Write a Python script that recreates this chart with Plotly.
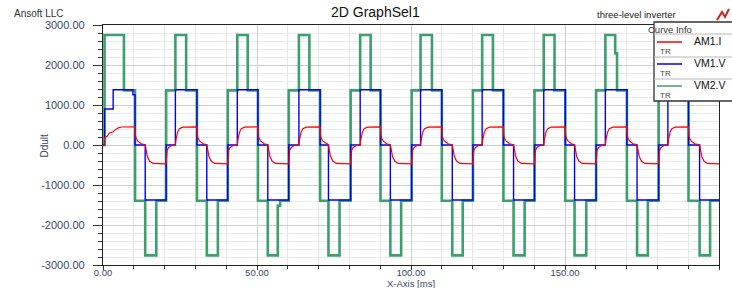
import plotly.graph_objects as go

# ---------------- data ----------------
# VM2.V (green) step waveform: transition times [ms] and levels from that time on
green_t = [0, 0.5, 6.8, 10.4, 13.7, 17.3,
           20.5, 23.5, 27.0, 30.5, 33.7, 37.3,
           40.5, 43.6, 47.0, 50.3, 53.5, 56.75, 57.5,
           60.3, 63.6, 67.0, 70.5, 73.2, 76.8,
           80.4, 83.5, 86.9, 90.1, 93.3, 96.8,
           100.2, 103.1, 106.8, 110.0, 113.4, 116.8,
           120.1, 123.1, 126.6, 130.0, 133.3, 136.9,
           140.1, 143.1, 146.6, 150.1, 153.1, 156.9,
           160.1, 163.1, 166.3, 166.9, 170.1, 173.4, 176.9,
           180.4, 183.4, 187.0, 190.1, 193.7, 197.1,
           200.0]
green_v = [0, 2750, 1365, -1395, -2760, -1395,
           1365, 2750, 1365, -1395, -2760, -1395,
           1365, 2750, 1365, -1395, -2760, -1520, -1395,
           1365, 2750, 1365, -1395, -2760, -1395,
           1365, 2750, 1365, -1395, -2760, -1395,
           1365, 2750, 1365, -1395, -2760, -1395,
           1365, 2750, 1365, -1395, -2760, -1395,
           1365, 2750, 1365, -1395, -2760, -1395,
           1365, 2750, 2290, 1365, -1395, -2760, -1395,
           1365, 2750, 1365, -1395, -2760, -1395,
           -1395]

# VM1.V (blue) step waveform
blue_t = [0, 0.5, 3.3, 9.7, 10.4, 13.7,
          20.5, 23.5, 30.5, 33.7,
          40.5, 43.6, 50.3, 53.5,
          60.3, 63.6, 70.5, 73.2,
          80.4, 83.5, 90.1, 93.3,
          100.2, 103.1, 110.0, 113.4,
          120.1, 123.1, 130.0, 133.3,
          140.1, 143.1, 150.1, 153.1,
          160.1, 163.1, 170.1, 173.4,
          180.4, 183.4, 190.1, 193.7,
          200.0]
blue_v = [0, 900, 1380, 1256, 0, -1375,
          0, 1380, 0, -1375,
          0, 1380, 0, -1375,
          0, 1380, 0, -1375,
          0, 1380, 0, -1375,
          0, 1380, 0, -1375,
          0, 1380, 0, -1375,
          0, 1380, 0, -1375,
          0, 1380, 0, -1375,
          0, 1380, 0, -1375,
          -1375]

# AM1.I (red) sampled points
red_t = [0, 0.45, 0.5, 1.0, 1.5, 2.0, 2.8, 3.3, 3.6, 4.2, 5.0, 6.0, 10.4, 10.5, 10.7, 11.3, 12.4, 13.7, 13.95, 14.4, 15.1, 16.2,
         20.5, 20.6, 20.8, 21.3, 22.3, 23.5, 23.7, 24.25, 24.8, 25.9, 30.5, 30.6, 30.8, 31.4, 32.5, 33.7, 33.95, 34.4, 35.1, 36.2,
         40.5, 40.6, 40.8, 41.3, 42.3, 43.6, 43.8, 44.35, 44.9, 46.0, 50.3, 50.4, 50.6, 51.2, 52.3, 53.5, 53.75, 54.2, 54.9, 56.0,
         60.3, 60.4, 60.6, 61.1, 62.1, 63.6, 63.8, 64.35, 64.9, 66.0, 70.5, 70.6, 70.8, 71.4, 72.5, 73.2, 73.45, 73.9, 74.6, 75.7,
         80.4, 80.5, 80.7, 81.2, 82.2, 83.5, 83.7, 84.25, 84.8, 85.9, 90.1, 90.2, 90.4, 91.0, 92.1, 93.3, 93.55, 94.0, 94.7, 95.8,
         100.2, 100.3, 100.5, 101.0, 102.0, 103.1, 103.3, 103.85, 104.4, 105.5, 110.0, 110.1, 110.3, 110.9, 112.0, 113.4, 113.65, 114.1, 114.8, 115.9,
         120.1, 120.2, 120.4, 120.9, 121.9, 123.1, 123.3, 123.85, 124.4, 125.5, 130.0, 130.1, 130.3, 130.9, 132.0, 133.3, 133.55, 134.0, 134.7, 135.8,
         140.1, 140.2, 140.4, 140.9, 141.9, 143.1, 143.3, 143.85, 144.4, 145.5, 150.1, 150.2, 150.4, 151.0, 152.1, 153.1, 153.35, 153.8, 154.5, 155.6,
         160.1, 160.2, 160.4, 160.9, 161.9, 163.1, 163.3, 163.85, 164.4, 165.5, 170.1, 170.2, 170.4, 171.0, 172.1, 173.4, 173.65, 174.1, 174.8, 175.9,
         180.4, 180.5, 180.7, 181.2, 182.2, 183.4, 183.6, 184.15, 184.7, 185.8, 190.1, 190.2, 190.4, 191.0, 192.1, 193.7, 193.95, 194.4, 195.1, 196.2,
         200.0]
red_v = [0, 0, 180, 195, 230, 295, 320, 330, 360, 400, 430, 450, 452, 260, 180, 95, 30, 8, -130, -290, -400, -460,
         -470, -230, -140, -60, -12, -2, 137, 328, 410, 448, 452, 260, 180, 95, 30, 8, -130, -290, -400, -460,
         -470, -230, -140, -60, -12, -2, 137, 328, 410, 448, 452, 260, 180, 95, 30, 8, -130, -290, -400, -460,
         -470, -230, -140, -60, -12, -2, 137, 328, 410, 448, 452, 260, 180, 95, 30, 8, -130, -290, -400, -460,
         -470, -230, -140, -60, -12, -2, 137, 328, 410, 448, 452, 260, 180, 95, 30, 8, -130, -290, -400, -460,
         -470, -230, -140, -60, -12, -2, 137, 328, 410, 448, 452, 260, 180, 95, 30, 8, -130, -290, -400, -460,
         -470, -230, -140, -60, -12, -2, 137, 328, 410, 448, 452, 260, 180, 95, 30, 8, -130, -290, -400, -460,
         -470, -230, -140, -60, -12, -2, 137, 328, 410, 448, 452, 260, 180, 95, 30, 8, -130, -290, -400, -460,
         -470, -230, -140, -60, -12, -2, 137, 328, 410, 448, 452, 260, 180, 95, 30, 8, -130, -290, -400, -460,
         -470, -230, -140, -60, -12, -2, 137, 328, 410, 448, 452, 260, 180, 95, 30, 8, -130, -290, -400, -460,
         -470]

series_names = ["AM1.I", "VM1.V", "VM2.V"]
series_colors = ["#ff0000", "#0000ff", "#3c9f6e"]

x_tickvals = [0, 50, 100, 150, 200]
x_ticktext = ["0.00", "50.00", "100.00", "150.00", "200.00"]
y_tickvals = [-3000, -2000, -1000, 0, 1000, 2000, 3000]
y_ticktext = ["-3000.00", "-2000.00", "-1000.00", "0.00", "1000.00", "2000.00", "3000.00"]

# ---------------- layout helpers ----------------
W, H = 732, 288
ML, MR, MT, MB = 103, 13, 25, 23
PW, PH = W - ML - MR, H - MT - MB


def xp(px):
    return (px - ML) / PW


def yp(py):
    return (H - MB - py) / PH


FONT = "Liberation Sans, Arial, sans-serif"
TICKCOL = "#3b4766"

fig = go.Figure()
fig.add_trace(go.Scatter(x=green_t, y=green_v, mode="lines", line_shape="hv",
                         line=dict(color=series_colors[2], width=2.6), name=series_names[2]))
fig.add_trace(go.Scatter(x=blue_t, y=blue_v, mode="lines", line_shape="hv",
                         line=dict(color=series_colors[1], width=1.4), name=series_names[1]))
fig.add_trace(go.Scatter(x=red_t, y=red_v, mode="lines",
                         line=dict(color=series_colors[0], width=1.2), name=series_names[0]))

fig.update_layout(
    width=W, height=H,
    margin=dict(l=ML, r=MR, t=MT, b=MB, autoexpand=False),
    paper_bgcolor="white", plot_bgcolor="white",
    showlegend=False,
    font=dict(family=FONT, size=11, color=TICKCOL),
)

fig.update_xaxes(
    range=[0, 200], tickvals=x_tickvals, ticktext=x_ticktext, automargin=False,
    showline=True, mirror=True, linecolor="#222", linewidth=1.3,
    ticks="outside", ticklen=4, tickcolor="#333",
    showgrid=True, gridcolor="#cfcfcf", gridwidth=1,
    minor=dict(dtick=10, ticks="outside", ticklen=3, tickcolor="#333",
               showgrid=True, gridcolor="#e6e6e6", gridwidth=1),
    tickfont=dict(size=9.5, color=TICKCOL), zeroline=False,
    ticklabelstandoff=-6,
)
fig.update_yaxes(
    range=[-3000, 3000], tickvals=y_tickvals, ticktext=y_ticktext, automargin=False,
    showline=True, mirror=True, linecolor="#222", linewidth=1.3,
    ticks="outside", ticklen=9, tickcolor="#333",
    showgrid=True, gridcolor="#cfcfcf", gridwidth=1,
    minor=dict(dtick=200, ticks="outside", ticklen=4, tickcolor="#333",
               showgrid=True, gridcolor="#ebebeb", gridwidth=1),
    tickfont=dict(size=11, color=TICKCOL), zeroline=False,
    ticklabelstandoff=6,
)

ann = []
ann.append(dict(text="2D GraphSel1", x=xp(375), y=yp(12), xref="paper", yref="paper",
                yanchor="middle", showarrow=False, font=dict(size=14, color="#111", family=FONT)))
ann.append(dict(text="Ansoft LLC", x=xp(12), y=yp(14), xref="paper", yref="paper",
                xanchor="left", yanchor="middle", showarrow=False, font=dict(size=10, color="#333", family=FONT)))
ann.append(dict(text="three-level inverter", x=xp(595), y=yp(15), xref="paper", yref="paper",
                xanchor="left", yanchor="middle", showarrow=False, font=dict(size=9.5, color="#222", family=FONT)))
ann.append(dict(text="X-Axis [ms]", x=xp(411), y=yp(283.5), xref="paper", yref="paper",
                yanchor="middle", showarrow=False, borderpad=0,
                font=dict(size=9.5, color=TICKCOL, family=FONT)))
ann.append(dict(text="Ddult", x=xp(36), y=yp(146), xref="paper", yref="paper", textangle=-90,
                yanchor="middle", showarrow=False, font=dict(size=10, color=TICKCOL, family=FONT)))

shapes = []
# small red logo at top right
shapes.append(dict(type="path", xref="paper", yref="paper", layer="above",
                   path=f"M {xp(717)} {yp(20)} L {xp(722)} {yp(12)} L {xp(725)} {yp(17)} L {xp(729)} {yp(9)}",
                   line=dict(color="#cc2222", width=2)))

# legend box
LX0, LX1, LY0, LY1 = 654, 740, 22, 101
shapes.append(dict(type="rect", xref="paper", yref="paper", layer="above",
                   x0=xp(LX0), x1=xp(LX1), y0=yp(LY1), y1=yp(LY0),
                   fillcolor="white", line=dict(color="#333", width=1.3)))
ann.append(dict(text="Curve Info", x=xp(694), y=yp(29), xref="paper", yref="paper",
                yanchor="middle", showarrow=False, font=dict(size=9.5, color="#333", family=FONT)))
sep_rows = [34, 57, 79]
for sy in sep_rows:
    shapes.append(dict(type="line", xref="paper", yref="paper", layer="above",
                       x0=xp(LX0), x1=xp(LX1), y0=yp(sy), y1=yp(sy),
                       line=dict(color="#b8b8b8", width=1)))
entry_rows = [42, 64, 86]
for i, ey in enumerate(entry_rows):
    shapes.append(dict(type="line", xref="paper", yref="paper", layer="above",
                       x0=xp(657), x1=xp(682), y0=yp(ey), y1=yp(ey),
                       line=dict(color=series_colors[i], width=1.5)))
    ann.append(dict(text=series_names[i], x=xp(692), y=yp(ey - 1), xref="paper", yref="paper",
                    xanchor="left", yanchor="middle", showarrow=False,
                    font=dict(size=10.5, color="#111", family=FONT)))
    ann.append(dict(text="TR", x=xp(658), y=yp(ey + 9.5), xref="paper", yref="paper",
                    xanchor="left", yanchor="middle", showarrow=False,
                    font=dict(size=8, color="#444", family=FONT)))

fig.update_layout(annotations=ann, shapes=shapes)

fig.write_html("out.html", config={"displayModeBar": False},
               post_script="document.body.style.margin='0';document.body.style.overflow='hidden';")
